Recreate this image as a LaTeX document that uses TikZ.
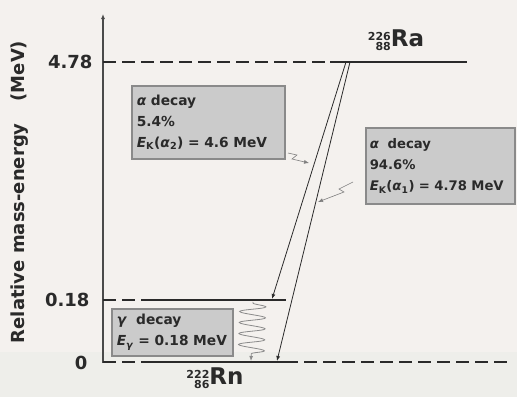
\documentclass[tikz,border=0pt]{standalone}
\usepackage{fontspec}
\setmainfont{DejaVu Sans}
\usetikzlibrary{arrows.meta, decorations.pathmorphing, positioning}
\definecolor{paper}{HTML}{F4F1EE}
\definecolor{paperlow}{HTML}{EEEEEA}
\definecolor{boxfill}{HTML}{CBCBCB}
\definecolor{boxline}{HTML}{8A8A8A}
\definecolor{ink}{HTML}{2A2A2A}
\newcommand{\nuclide}[3]{\raisebox{-4pt}{\fontsize{11}{11}\selectfont\begin{tabular}[b]{@{}r@{}}#1\\[-1pt]#2\end{tabular}}#3}
\tikzstyle{level} = [line width=2pt, ink]
\tikzstyle{guide} = [line width=1.6pt, ink, dash pattern=on 13pt off 6pt]
\tikzstyle{infobox} = [rectangle, draw=boxline, line width=1.5pt, fill=boxfill, align=left, anchor=north west, inner sep=5pt, text=ink, font=\bfseries\fontsize{13.8}{21}\selectfont]
\tikzstyle{tick} = [anchor=east, text=ink, font=\bfseries\fontsize{18}{20}\selectfont]
\tikzstyle{arrow} = [line width=0.8pt, ink, -{Latex[length=5pt,width=4pt]}]
\tikzstyle{bolt} = [line width=0.6pt, ink!60, -{Latex[length=5pt,width=4pt]}]
\tikzstyle{wave} = [arrow, draw=ink!55, decorate, decoration={snake, segment length=11pt, amplitude=13pt, pre length=1pt, post length=7pt}]

\begin{document}
\begin{tikzpicture}[x=1pt, y=-1pt]
\useasboundingbox (0,0) rectangle (517,397);
\fill[paper] (0,0) rectangle (517,397);
\fill[paperlow] (0,352) rectangle (517,397);

% axis
\coordinate (origin) at (103,363);
\coordinate (ytop) at (103,14);
\draw[line width=2pt, ink!85, -{Latex[length=5pt,width=4pt]}] (origin) -- (ytop);
\node (ylabel) [rotate=90, text=ink, font=\bfseries\fontsize{18}{20}\selectfont] at (20,192) {Relative mass-energy\hspace{22pt}(MeV)};

% energy levels
\coordinate (raL) at (103,62);  \coordinate (raM) at (330,62);  \coordinate (raR) at (467,62);
\coordinate (exL) at (103,300); \coordinate (exM) at (145,300); \coordinate (exR) at (286,300);
\coordinate (gnL) at (103,362); \coordinate (gnM) at (145,362); \coordinate (gnR) at (285,362);
\coordinate (gnE) at (512,362);
\draw[guide] (raL) -- (raM);
\draw[level] (raM) -- (raR);
\draw[guide] (exL) -- (exM);
\draw[level] (exM) -- (exR);
\draw[guide] (gnL) -- (gnM);
\draw[level] (gnM) -- (gnR);
\draw[guide] (gnR) -- (gnE);

\node (t478) [tick] at (96,62) {4.78};
\node (t018) [tick] at (93,300) {0.18};
\node (t0) [tick] at (91,363) {0};

\node (ra) [text=ink, font=\bfseries\fontsize{23}{23}\selectfont] at (396,42) {\nuclide{226}{88}{Ra}};
\node (rn) [text=ink, font=\bfseries\fontsize{23}{23}\selectfont] at (215,380) {\nuclide{222}{86}{Rn}};

% boxes
\node (b1) [infobox, text width=143pt, minimum height=73pt] at (131,85)
  {\textit{α} decay\\5.4\%\\\textit{E}\textsubscript{K}(\textit{α}\textsubscript{2}) = 4.6 MeV};
\node (b2) [infobox, text width=141pt, inner sep=4pt, minimum height=76pt, font=\bfseries\fontsize{13.2}{21}\selectfont] at (365,127)
  {\textit{α}\ \ decay\\94.6\%\\\textit{E}\textsubscript{K}(\textit{α}\textsubscript{1}) = 4.78 MeV};
\node (b3) [infobox, text width=111pt, minimum height=47pt] at (111,308)
  {\textit{γ}\ \ decay\\\textit{E}\textsubscript{\textit{γ}} = 0.18 MeV};

% transitions
\coordinate (raA) at (346,62);
\coordinate (raB) at (350,62);
\coordinate (exA) at (272,299);
\coordinate (gnB) at (277,361);
\draw[arrow] (raA) -- (exA);
\draw[arrow] (raB) -- (gnB);
\coordinate (gtop) at (253,302);
\coordinate (gbot) at (251,361);
\draw[wave] (gtop) -- (gbot);

\coordinate (bolt1s) at (288,153);
\coordinate (bolt1e) at (309,163);
\coordinate (bolt2s) at (353,182);
\coordinate (bolt2e) at (318,202);
\draw[bolt] (bolt1s) -- ++(9,2) -- ++(-5,4) -- (bolt1e);
\draw[bolt] (bolt2s) -- (339,189) -- (344,192) -- (bolt2e);
\end{tikzpicture}
\end{document}
